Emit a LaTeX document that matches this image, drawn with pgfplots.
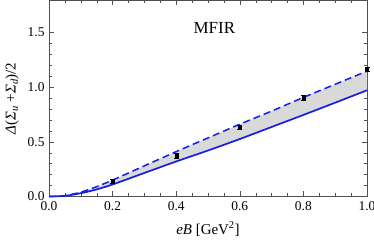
\documentclass[border=0pt]{standalone}
\usepackage{pgfplots}
\pgfplotsset{compat=1.18}
\usepgfplotslibrary{fillbetween}
\usepackage{fontspec}
\setmainfont{Liberation Serif}
\definecolor{lineblue}{RGB}{20,30,230}
\definecolor{framegray}{RGB}{80,80,80}
\begin{document}
\begin{tikzpicture}
\begin{axis}[
  scale only axis,
  width=318bp, height=196bp,
  xmin=0, xmax=1, ymin=0, ymax=1.79,
  xtick={0,0.2,0.4,0.6,0.8,1.0}, ytick={0,0.5,1.0,1.5},
  xticklabels={0.0,0.2,0.4,0.6,0.8,1.0},
  yticklabels={0.0,0.5,1.0,1.5},
  minor x tick num=3, minor y tick num=4,
  tick align=inside,
  axis line style={framegray},
  every tick/.style={framegray},
  major tick length=5bp, minor tick length=3bp,
  tick label style={font=\fontsize{13.5}{15}\selectfont},
  xticklabel style={yshift=-2bp},
  yticklabel style={xshift=-1bp},
  xlabel={\textit{eB} [GeV\textsuperscript{2}]},
  ylabel={\textit{Δ}(\textit{Σ}\textsubscript{\textit{u}} +\textit{Σ}\textsubscript{\textit{d}})/2},
  label style={font=\fontsize{15}{17}\selectfont},
  xlabel style={yshift=-4bp},
  ylabel style={yshift=2bp},
  clip=false,
]
\addplot[name path=upper, lineblue, line width=1.5bp, dash pattern=on 7bp off 4bp, smooth] coordinates {
 (0,0) (0.05,0.008) (0.1,0.04) (0.15,0.09) (0.2,0.15) (0.3,0.28) (0.4,0.41) (0.5,0.535) (0.6,0.66) (0.7,0.78) (0.8,0.905) (0.9,1.025) (1.0,1.145)};
\addplot[name path=lower, lineblue, line width=1.7bp, smooth] coordinates {
 (0,0) (0.05,0.006) (0.1,0.03) (0.15,0.065) (0.2,0.11) (0.3,0.215) (0.4,0.32) (0.5,0.42) (0.6,0.525) (0.7,0.635) (0.8,0.745) (0.9,0.857) (1.0,0.97)};
\addplot[fill=gray!30, draw=none] fill between[of=upper and lower];
\addplot[black, only marks, mark=square*, mark size=1.5bp,
  error bars/.cd, y dir=both, y explicit, error bar style={line width=1bp},
  error mark options={rotate=90, mark size=2.5bp, line width=1bp}]
  coordinates {
  (0.2,0.135) +- (0,0.02)
  (0.4,0.37) +- (0,0.02)
  (0.6,0.63) +- (0,0.02)
  (0.8,0.90) +- (0,0.02)
  (1.0,1.16) +- (0,0.02)};
\node[font=\fontsize{17}{19}\selectfont] at (axis cs:0.52,1.54) {MFIR};
\end{axis}
\pgfresetboundingbox
\path[use as bounding box] ([xshift=-49bp,yshift=-47bp]current axis.south west) rectangle ([xshift=7bp,yshift=0.5bp]current axis.north east);
\end{tikzpicture}
\end{document}
